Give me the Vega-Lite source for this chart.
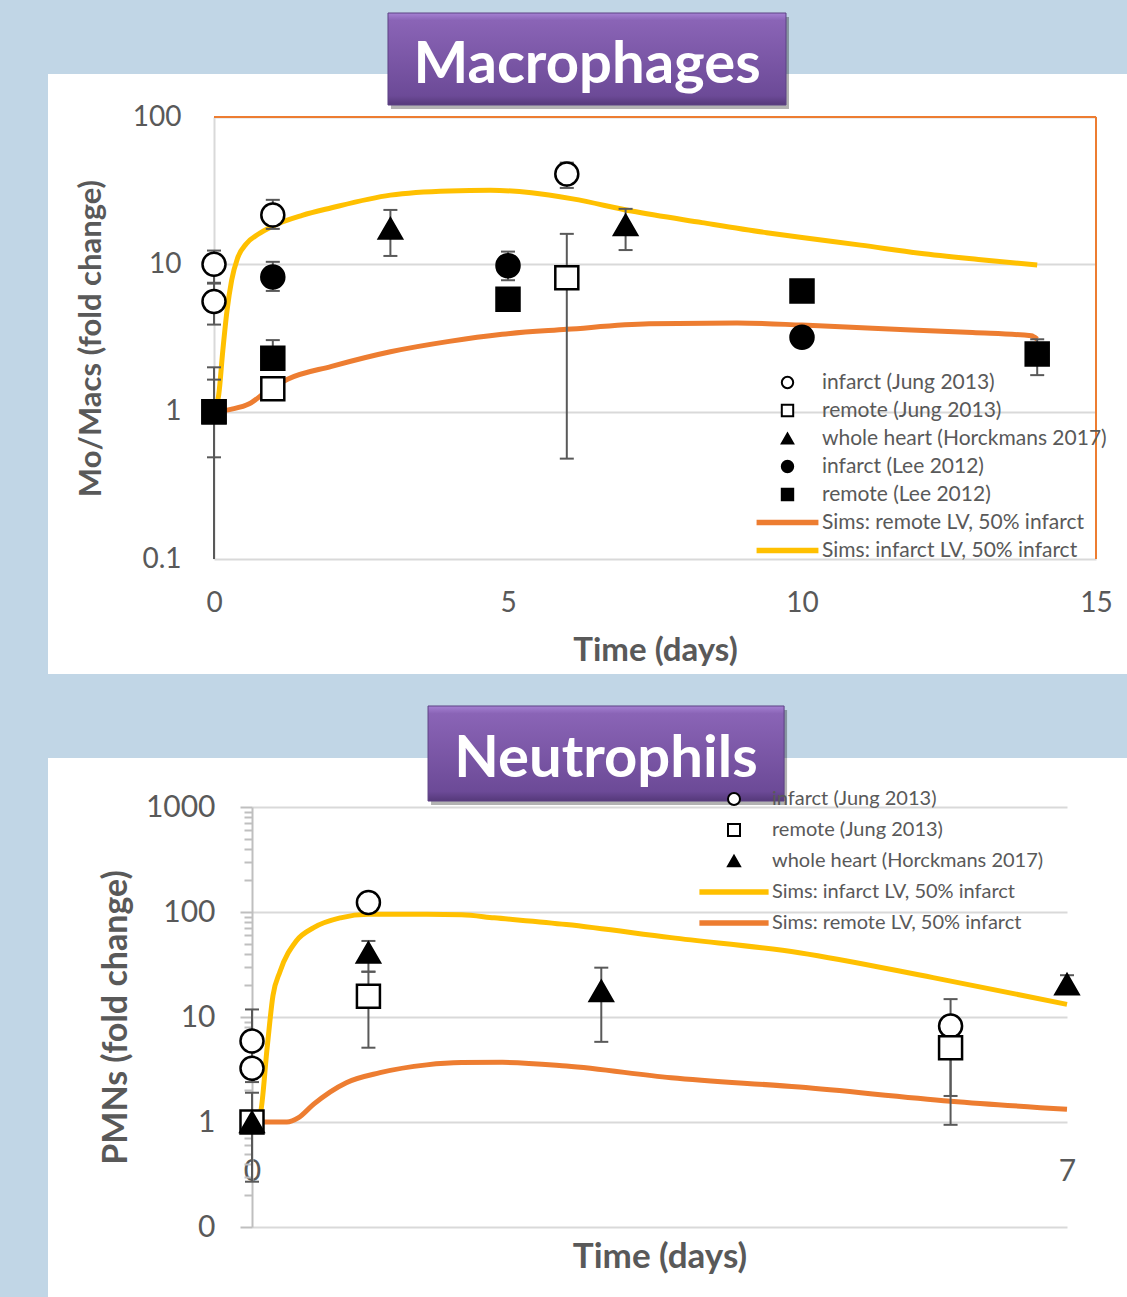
{
  "$schema": "https://vega.github.io/schema/vega-lite/v6.json",
  "background": "#c1d6e6",
  "padding": {"left": 48, "top": 12, "right": 0, "bottom": 0},
  "autosize": {"type": "pad"},
  "bounds": "flush",
  "spacing": 84,
  "config": {
    "view": {"fill": "white", "stroke": null},
    "font": "Lato",
    "axis": {"labelFont": "Lato", "titleFont": "Lato", "labelColor": "#595959", "titleColor": "#595959", "titleFontWeight": "bold", "labelFlush": false, "labelOverlap": false},
    "legend": {"labelFont": "Lato", "labelColor": "#595959", "padding": 0, "symbolOpacity": 1, "symbolStrokeWidth": 2, "labelLimit": 0}
  },
  "resolve": {"scale": {"shape": "independent", "fill": "independent", "stroke": "independent"}, "legend": {"shape": "independent", "fill": "independent", "stroke": "independent"}},
  "datasets": {
    "mac_pts": [
      {"series": "infarct (Jung 2013)", "t": 0, "v": 10, "lo": 7.5, "hi": 12.4},
      {"series": "infarct (Jung 2013)", "t": 0, "v": 5.6, "lo": 3.9, "hi": 7.4},
      {"series": "infarct (Jung 2013)", "t": 1, "v": 21.6, "lo": 17.4, "hi": 27.4},
      {"series": "infarct (Jung 2013)", "t": 6, "v": 41, "lo": 33, "hi": 49},
      {"series": "remote (Jung 2013)", "t": 0, "v": 1, "lo": 0.1, "hi": 2.0},
      {"series": "remote (Jung 2013)", "t": 1, "v": 1.43, "lo": null, "hi": null},
      {"series": "remote (Jung 2013)", "t": 6, "v": 8.1, "lo": 0.48, "hi": 16.1},
      {"series": "whole heart (Horckmans 2017)", "t": 3, "v": 17.5, "lo": 11.4, "hi": 23.4},
      {"series": "whole heart (Horckmans 2017)", "t": 7, "v": 18.5, "lo": 12.5, "hi": 23.8},
      {"series": "infarct (Lee 2012)", "t": 1, "v": 8.2, "lo": 6.6, "hi": 10.4},
      {"series": "infarct (Lee 2012)", "t": 5, "v": 9.8, "lo": 7.8, "hi": 12.2},
      {"series": "infarct (Lee 2012)", "t": 10, "v": 3.2, "lo": null, "hi": null},
      {"series": "remote (Lee 2012)", "t": 0, "v": 1, "lo": 0.49, "hi": 1.65},
      {"series": "remote (Lee 2012)", "t": 1, "v": 2.3, "lo": 2.0, "hi": 3.06},
      {"series": "remote (Lee 2012)", "t": 5, "v": 5.8, "lo": null, "hi": null},
      {"series": "remote (Lee 2012)", "t": 10, "v": 6.6, "lo": null, "hi": null},
      {"series": "remote (Lee 2012)", "t": 14, "v": 2.46, "lo": 1.77, "hi": 3.1}
    ],
    "mac_sim": [
      {"series": "Sims: infarct LV, 50% infarct", "t": 0, "v": 1},
      {"series": "Sims: infarct LV, 50% infarct", "t": 0.08, "v": 1.3},
      {"series": "Sims: infarct LV, 50% infarct", "t": 0.15, "v": 2.6},
      {"series": "Sims: infarct LV, 50% infarct", "t": 0.22, "v": 4.8},
      {"series": "Sims: infarct LV, 50% infarct", "t": 0.3, "v": 7.8},
      {"series": "Sims: infarct LV, 50% infarct", "t": 0.4, "v": 11},
      {"series": "Sims: infarct LV, 50% infarct", "t": 0.55, "v": 13.8},
      {"series": "Sims: infarct LV, 50% infarct", "t": 0.75, "v": 16},
      {"series": "Sims: infarct LV, 50% infarct", "t": 1, "v": 18.2},
      {"series": "Sims: infarct LV, 50% infarct", "t": 1.5, "v": 21.5},
      {"series": "Sims: infarct LV, 50% infarct", "t": 2, "v": 24.2},
      {"series": "Sims: infarct LV, 50% infarct", "t": 3, "v": 29.5},
      {"series": "Sims: infarct LV, 50% infarct", "t": 4, "v": 31.5},
      {"series": "Sims: infarct LV, 50% infarct", "t": 4.7, "v": 31.8},
      {"series": "Sims: infarct LV, 50% infarct", "t": 5.4, "v": 30.6},
      {"series": "Sims: infarct LV, 50% infarct", "t": 6.1, "v": 27.8},
      {"series": "Sims: infarct LV, 50% infarct", "t": 7.1, "v": 23},
      {"series": "Sims: infarct LV, 50% infarct", "t": 8.3, "v": 19.2},
      {"series": "Sims: infarct LV, 50% infarct", "t": 9.4, "v": 16.4},
      {"series": "Sims: infarct LV, 50% infarct", "t": 10, "v": 15.2},
      {"series": "Sims: infarct LV, 50% infarct", "t": 11, "v": 13.5},
      {"series": "Sims: infarct LV, 50% infarct", "t": 12, "v": 11.9},
      {"series": "Sims: infarct LV, 50% infarct", "t": 13, "v": 10.8},
      {"series": "Sims: infarct LV, 50% infarct", "t": 14, "v": 9.9},
      {"series": "Sims: remote LV, 50% infarct", "t": 0, "v": 1},
      {"series": "Sims: remote LV, 50% infarct", "t": 0.3, "v": 1.04},
      {"series": "Sims: remote LV, 50% infarct", "t": 0.6, "v": 1.13},
      {"series": "Sims: remote LV, 50% infarct", "t": 0.9, "v": 1.38},
      {"series": "Sims: remote LV, 50% infarct", "t": 1.25, "v": 1.66},
      {"series": "Sims: remote LV, 50% infarct", "t": 2, "v": 2.03},
      {"series": "Sims: remote LV, 50% infarct", "t": 3, "v": 2.55},
      {"series": "Sims: remote LV, 50% infarct", "t": 4, "v": 3.0},
      {"series": "Sims: remote LV, 50% infarct", "t": 4.9, "v": 3.35},
      {"series": "Sims: remote LV, 50% infarct", "t": 6, "v": 3.62},
      {"series": "Sims: remote LV, 50% infarct", "t": 7.4, "v": 3.95},
      {"series": "Sims: remote LV, 50% infarct", "t": 8.9, "v": 4.0},
      {"series": "Sims: remote LV, 50% infarct", "t": 10, "v": 3.87},
      {"series": "Sims: remote LV, 50% infarct", "t": 11.2, "v": 3.68},
      {"series": "Sims: remote LV, 50% infarct", "t": 12.9, "v": 3.44},
      {"series": "Sims: remote LV, 50% infarct", "t": 13.9, "v": 3.27},
      {"series": "Sims: remote LV, 50% infarct", "t": 14, "v": 3.1}
    ],
    "neu_pts": [
      {"series": "infarct (Jung 2013)", "t": 0, "v": 5.9, "lo": 2.4, "hi": 11.8},
      {"series": "infarct (Jung 2013)", "t": 0, "v": 3.25, "lo": null, "hi": null},
      {"series": "infarct (Jung 2013)", "t": 1, "v": 123, "lo": null, "hi": null},
      {"series": "infarct (Jung 2013)", "t": 6, "v": 8.2, "lo": 1.77, "hi": 14.8},
      {"series": "remote (Jung 2013)", "t": 0, "v": 1, "lo": 0.27, "hi": 1.9},
      {"series": "remote (Jung 2013)", "t": 1, "v": 15.8, "lo": 5.1, "hi": 27},
      {"series": "remote (Jung 2013)", "t": 6, "v": 5.1, "lo": 0.94, "hi": 8},
      {"series": "whole heart (Horckmans 2017)", "t": 0, "v": 1, "lo": null, "hi": null},
      {"series": "whole heart (Horckmans 2017)", "t": 1, "v": 41, "lo": 27, "hi": 53},
      {"series": "whole heart (Horckmans 2017)", "t": 3, "v": 17.7, "lo": 5.8, "hi": 29.5},
      {"series": "whole heart (Horckmans 2017)", "t": 7, "v": 20.5, "lo": 18, "hi": 25}
    ],
    "neu_sim": [
      {"series": "Sims: infarct LV, 50% infarct", "t": 0, "v": 1},
      {"series": "Sims: infarct LV, 50% infarct", "t": 0.07, "v": 1.2},
      {"series": "Sims: infarct LV, 50% infarct", "t": 0.13, "v": 5.1},
      {"series": "Sims: infarct LV, 50% infarct", "t": 0.18, "v": 16},
      {"series": "Sims: infarct LV, 50% infarct", "t": 0.24, "v": 27},
      {"series": "Sims: infarct LV, 50% infarct", "t": 0.38, "v": 53},
      {"series": "Sims: infarct LV, 50% infarct", "t": 0.53, "v": 71},
      {"series": "Sims: infarct LV, 50% infarct", "t": 0.76, "v": 88},
      {"series": "Sims: infarct LV, 50% infarct", "t": 1, "v": 95},
      {"series": "Sims: infarct LV, 50% infarct", "t": 1.5, "v": 95},
      {"series": "Sims: infarct LV, 50% infarct", "t": 1.8, "v": 94},
      {"series": "Sims: infarct LV, 50% infarct", "t": 2.08, "v": 88},
      {"series": "Sims: infarct LV, 50% infarct", "t": 2.7, "v": 76},
      {"series": "Sims: infarct LV, 50% infarct", "t": 3.6, "v": 57},
      {"series": "Sims: infarct LV, 50% infarct", "t": 4.7, "v": 41},
      {"series": "Sims: infarct LV, 50% infarct", "t": 5.85, "v": 23.7},
      {"series": "Sims: infarct LV, 50% infarct", "t": 7, "v": 13.2},
      {"series": "Sims: remote LV, 50% infarct", "t": 0, "v": 1},
      {"series": "Sims: remote LV, 50% infarct", "t": 0.3, "v": 1.0},
      {"series": "Sims: remote LV, 50% infarct", "t": 0.4, "v": 1.1},
      {"series": "Sims: remote LV, 50% infarct", "t": 0.53, "v": 1.48},
      {"series": "Sims: remote LV, 50% infarct", "t": 0.81, "v": 2.37},
      {"series": "Sims: remote LV, 50% infarct", "t": 1.1, "v": 2.95},
      {"series": "Sims: remote LV, 50% infarct", "t": 1.5, "v": 3.5},
      {"series": "Sims: remote LV, 50% infarct", "t": 1.8, "v": 3.68},
      {"series": "Sims: remote LV, 50% infarct", "t": 2.15, "v": 3.7},
      {"series": "Sims: remote LV, 50% infarct", "t": 2.7, "v": 3.41},
      {"series": "Sims: remote LV, 50% infarct", "t": 3.6, "v": 2.64},
      {"series": "Sims: remote LV, 50% infarct", "t": 4.7, "v": 2.15},
      {"series": "Sims: remote LV, 50% infarct", "t": 6, "v": 1.58},
      {"series": "Sims: remote LV, 50% infarct", "t": 7, "v": 1.32}
    ]
  },
  "vconcat": [
    {
      "width": 1079,
      "height": 600,
      "layer": [
        {
          "data": {"name": "mac_sim"},
          "mark": {"type": "line", "strokeWidth": 5, "interpolate": "monotone"},
          "encoding": {
            "x": {"field": "t", "type": "quantitative",
              "scale": {"domain": [0, 15], "range": [166, 1048], "nice": false, "zero": false},
              "axis": {"values": [0, 5, 10, 15], "format": "d", "title": "Time (days)", "offset": -115, "grid": false, "domain": false, "ticks": false, "tickSize": 0, "labelPadding": 30, "labelFontSize": 28, "titleFontSize": 33, "titlePadding": 17}},
            "y": {"field": "v", "type": "quantitative",
              "scale": {"type": "log", "domain": [0.1, 100], "range": [485, 43], "nice": false},
              "axis": {"values": [0.1, 1, 10, 100], "format": "~g", "title": "Mo/Macs (fold change)", "offset": -166, "grid": true, "gridColor": "#d9d9d9", "gridWidth": 2, "domainColor": "#d9d9d9", "domainWidth": 2, "ticks": false, "tickSize": 0, "labelPadding": 33, "labelFontSize": 28, "titleFontSize": 31, "titlePadding": 25}},
            "stroke": {"field": "series", "type": "nominal",
              "scale": {"domain": ["infarct (Jung 2013)", "remote (Jung 2013)", "whole heart (Horckmans 2017)", "infarct (Lee 2012)", "remote (Lee 2012)", "Sims: remote LV, 50% infarct", "Sims: infarct LV, 50% infarct"],
                "range": ["black", "black", "black", "black", "black", "#ed7d31", "#ffc000"]},
              "legend": {"title": null, "orient": "none", "legendX": 729, "legendY": 298, "labelFontSize": 21, "labelOffset": 24, "rowPadding": 6, "symbolSize": 130}}
          }
        },
        {
          "data": {"values": [{}]},
          "mark": {"type": "rule", "color": "#ed7d31", "strokeWidth": 2},
          "encoding": {
            "x": {"datum": 0},
            "x2": {"datum": 15},
            "y": {"datum": 100}
          }
        },
        {
          "data": {"values": [{}]},
          "mark": {"type": "rule", "color": "#ed7d31", "strokeWidth": 2},
          "encoding": {
            "x": {"datum": 15},
            "y": {"datum": 0.1},
            "y2": {"datum": 100}
          }
        },
        {
          "data": {"name": "mac_pts"},
          "transform": [{"filter": "datum.lo != null"}],
          "mark": {"type": "rule", "color": "#595959", "strokeWidth": 2},
          "encoding": {
            "x": {"field": "t", "type": "quantitative"},
            "y": {"field": "lo", "type": "quantitative"},
            "y2": {"field": "hi"}
          }
        },
        {
          "data": {"name": "mac_pts"},
          "transform": [{"filter": "datum.hi != null"}],
          "mark": {"type": "tick", "orient": "horizontal", "size": 14, "thickness": 2, "color": "#595959", "opacity": 1},
          "encoding": {
            "x": {"field": "t", "type": "quantitative"},
            "y": {"field": "hi", "type": "quantitative"}
          }
        },
        {
          "data": {"name": "mac_pts"},
          "transform": [{"filter": "datum.lo != null && datum.lo > 0.1"}],
          "mark": {"type": "tick", "orient": "horizontal", "size": 14, "thickness": 2, "color": "#595959", "opacity": 1},
          "encoding": {
            "x": {"field": "t", "type": "quantitative"},
            "y": {"field": "lo", "type": "quantitative"}
          }
        },
        {
          "data": {"name": "mac_pts"},
          "mark": {"type": "point", "filled": true, "strokeWidth": 2.5, "size": 529, "opacity": 1},
          "encoding": {
            "x": {"field": "t", "type": "quantitative"},
            "y": {"field": "v", "type": "quantitative"},
            "shape": {"field": "series", "type": "nominal",
              "scale": {
                "domain": ["infarct (Jung 2013)", "remote (Jung 2013)", "whole heart (Horckmans 2017)", "infarct (Lee 2012)", "remote (Lee 2012)", "Sims: remote LV, 50% infarct", "Sims: infarct LV, 50% infarct"],
                "range": ["circle", "square", "triangle-up", "circle", "square", "M-5.25,-0.3H5.25V0.3H-5.25Z", "M-5.25,-0.3H5.25V0.3H-5.25Z"]
              },
              "legend": {"title": null, "orient": "none", "legendX": 729, "legendY": 298, "labelFontSize": 21, "labelOffset": 24, "rowPadding": 6, "symbolSize": 130}
            },
            "fill": {"field": "series", "type": "nominal",
              "scale": {"domain": ["infarct (Jung 2013)", "remote (Jung 2013)", "whole heart (Horckmans 2017)", "infarct (Lee 2012)", "remote (Lee 2012)", "Sims: remote LV, 50% infarct", "Sims: infarct LV, 50% infarct"],
                "range": ["white", "white", "black", "black", "black", "#ed7d31", "#ffc000"]},
              "legend": {"title": null, "orient": "none", "legendX": 729, "legendY": 298, "labelFontSize": 21, "labelOffset": 24, "rowPadding": 6, "symbolSize": 130}
            },
            "stroke": {"field": "series", "type": "nominal",
              "scale": {"domain": ["infarct (Jung 2013)", "remote (Jung 2013)", "whole heart (Horckmans 2017)", "infarct (Lee 2012)", "remote (Lee 2012)", "Sims: remote LV, 50% infarct", "Sims: infarct LV, 50% infarct"],
                "range": ["black", "black", "black", "black", "black", "#ed7d31", "#ffc000"]},
              "legend": {"title": null, "orient": "none", "legendX": 729, "legendY": 298, "labelFontSize": 21, "labelOffset": 24, "rowPadding": 6, "symbolSize": 130}
            }
          }
        },
        {
          "data": {"values": [{}]},
          "mark": {"type": "rect", "fill": "black", "opacity": 0.3, "xOffset": 3, "x2Offset": 3, "yOffset": 4, "y2Offset": 4},
          "encoding": {
            "x": {"datum": 2.959}, "x2": {"datum": 9.728},
            "y": {"datum": 120.6}, "y2": {"datum": 508}
          }
        },
        {
          "data": {"values": [{}]},
          "mark": {"type": "rect", "stroke": "#5d4284", "strokeWidth": 1,
            "fill": {"gradient": "linear", "x1": 0, "y1": 0, "x2": 0, "y2": 1,
              "stops": [{"offset": 0, "color": "#a581d3"}, {"offset": 0.08, "color": "#8a64b6"}, {"offset": 0.9, "color": "#6c4a97"}, {"offset": 1, "color": "#55397a"}]}},
          "encoding": {
            "x": {"datum": 2.959}, "x2": {"datum": 9.728},
            "y": {"datum": 120.6}, "y2": {"datum": 508}
          }
        },
        {
          "data": {"values": [{}]},
          "mark": {"type": "text", "text": "Macrophages", "font": "Lato", "fontSize": 58, "fontWeight": "bold", "color": "white", "align": "center", "baseline": "alphabetic"},
          "encoding": {
            "x": {"datum": 6.344},
            "y": {"datum": 170}
          }
        }
      ]
    },
    {
      "width": 1079,
      "height": 540,
      "resolve": {"axis": {"y": "independent"}},
      "layer": [
        {
          "data": {"values": [{}]},
          "mark": {"type": "rule", "opacity": 0},
          "encoding": {
            "y": {"datum": 1, "type": "quantitative",
              "axis": {"orient": "left", "values": [0.2, 0.3, 0.4, 0.5, 0.6, 0.7, 0.8, 0.9, 2, 3, 4, 5, 6, 7, 8, 9, 20, 30, 40, 50, 60, 70, 80, 90, 200, 300, 400, 500, 600, 700, 800, 900], "offset": -204, "labels": false, "domain": false, "grid": false, "ticks": true, "tickSize": 8, "tickColor": "#bfbfbf", "tickWidth": 2, "title": null}}
          }
        },
        {
          "layer": [
            {
              "data": {"name": "neu_sim"},
              "mark": {"type": "line", "strokeWidth": 5, "interpolate": "monotone"},
              "encoding": {
                "x": {"field": "t", "type": "quantitative",
                  "scale": {"domain": [0, 7], "range": [204, 1019], "nice": false, "zero": false},
                  "axis": {"values": [0, 7], "format": "d", "title": "Time (days)", "offset": -176, "grid": false, "domain": false, "ticks": false, "tickSize": 0, "labelPadding": 34, "labelFontSize": 30, "titleFontSize": 35, "titlePadding": 53}},
                "y": {"field": "v", "type": "quantitative",
                  "scale": {"type": "log", "domain": [0.1, 1000], "range": [469, 49], "nice": false},
                  "axis": {"orient": "left", "values": [0.1, 1, 10, 100, 1000], "format": "~g", "labelExpr": "datum.value < 0.5 ? '0' : datum.label", "title": "PMNs (fold change)", "offset": -204, "grid": true, "gridColor": "#d9d9d9", "gridWidth": 2, "domainColor": "#bfbfbf", "domainWidth": 2, "ticks": true, "tickSize": 12, "tickColor": "#bfbfbf", "tickWidth": 2, "labelPadding": 25, "labelFontSize": 30, "titleFontSize": 34, "titlePadding": 12}},
                "stroke": {"field": "series", "type": "nominal",
                  "scale": {"domain": ["infarct (Jung 2013)", "remote (Jung 2013)", "whole heart (Horckmans 2017)", "Sims: infarct LV, 50% infarct", "Sims: remote LV, 50% infarct"],
                    "range": ["black", "black", "black", "#ffc000", "#ed7d31"]},
                  "legend": {"title": null, "orient": "none", "legendX": 676, "legendY": 31, "labelFontSize": 20, "labelOffset": 28, "rowPadding": 11, "symbolSize": 144}}
              }
            },
            {
              "data": {"name": "neu_pts"},
              "transform": [{"filter": "datum.lo != null"}],
              "mark": {"type": "rule", "color": "#595959", "strokeWidth": 2},
              "encoding": {
                "x": {"field": "t", "type": "quantitative"},
                "y": {"field": "lo", "type": "quantitative"},
                "y2": {"field": "hi"}
              }
            },
            {
              "data": {"name": "neu_pts"},
              "transform": [{"filter": "datum.hi != null"}],
              "mark": {"type": "tick", "orient": "horizontal", "size": 14, "thickness": 2, "color": "#595959", "opacity": 1},
              "encoding": {
                "x": {"field": "t", "type": "quantitative"},
                "y": {"field": "hi", "type": "quantitative"}
              }
            },
            {
              "data": {"name": "neu_pts"},
              "transform": [{"filter": "datum.lo != null && datum.lo > 0.1"}],
              "mark": {"type": "tick", "orient": "horizontal", "size": 14, "thickness": 2, "color": "#595959", "opacity": 1},
              "encoding": {
                "x": {"field": "t", "type": "quantitative"},
                "y": {"field": "lo", "type": "quantitative"}
              }
            },
            {
              "data": {"name": "neu_pts"},
              "mark": {"type": "point", "filled": true, "strokeWidth": 2.5, "size": 529, "opacity": 1},
              "encoding": {
                "x": {"field": "t", "type": "quantitative"},
                "y": {"field": "v", "type": "quantitative"},
                "shape": {"field": "series", "type": "nominal",
                  "scale": {
                    "domain": ["infarct (Jung 2013)", "remote (Jung 2013)", "whole heart (Horckmans 2017)", "Sims: infarct LV, 50% infarct", "Sims: remote LV, 50% infarct"],
                    "range": ["circle", "square", "triangle-up", "M-5.6,-0.28H5.6V0.28H-5.6Z", "M-5.6,-0.28H5.6V0.28H-5.6Z"]
                  },
                  "legend": {"title": null, "orient": "none", "legendX": 676, "legendY": 31, "labelFontSize": 20, "labelOffset": 28, "rowPadding": 11, "symbolSize": 144}
                },
                "fill": {"field": "series", "type": "nominal",
                  "scale": {"domain": ["infarct (Jung 2013)", "remote (Jung 2013)", "whole heart (Horckmans 2017)", "Sims: infarct LV, 50% infarct", "Sims: remote LV, 50% infarct"],
                    "range": ["white", "white", "black", "#ffc000", "#ed7d31"]},
                  "legend": {"title": null, "orient": "none", "legendX": 676, "legendY": 31, "labelFontSize": 20, "labelOffset": 28, "rowPadding": 11, "symbolSize": 144}
                },
                "stroke": {"field": "series", "type": "nominal",
                  "scale": {"domain": ["infarct (Jung 2013)", "remote (Jung 2013)", "whole heart (Horckmans 2017)", "Sims: infarct LV, 50% infarct", "Sims: remote LV, 50% infarct"],
                    "range": ["black", "black", "black", "#ffc000", "#ed7d31"]},
                  "legend": {"title": null, "orient": "none", "legendX": 676, "legendY": 31, "labelFontSize": 20, "labelOffset": 28, "rowPadding": 11, "symbolSize": 144}
                }
              }
            },
            {
              "data": {"values": [{}]},
              "mark": {"type": "rect", "fill": "black", "opacity": 0.3, "xOffset": 3, "x2Offset": 3, "yOffset": 4, "y2Offset": 4},
              "encoding": {
                "x": {"datum": 1.512}, "x2": {"datum": 4.57},
                "y": {"datum": 1140}, "y2": {"datum": 9162}
              }
            },
            {
              "data": {"values": [{}]},
              "mark": {"type": "rect", "stroke": "#5d4284", "strokeWidth": 1,
                "fill": {"gradient": "linear", "x1": 0, "y1": 0, "x2": 0, "y2": 1,
                  "stops": [{"offset": 0, "color": "#a581d3"}, {"offset": 0.08, "color": "#8a64b6"}, {"offset": 0.9, "color": "#6c4a97"}, {"offset": 1, "color": "#55397a"}]}},
              "encoding": {
                "x": {"datum": 1.512}, "x2": {"datum": 4.57},
                "y": {"datum": 1140}, "y2": {"datum": 9162}
              }
            },
            {
              "data": {"values": [{}]},
              "mark": {"type": "text", "text": "Neutrophils", "font": "Lato", "fontSize": 58, "fontWeight": "bold", "color": "white", "align": "center", "baseline": "alphabetic"},
              "encoding": {
                "x": {"datum": 3.04},
                "y": {"datum": 1931}
              }
            }
          ]
        }
      ]
    }
  ]
}
